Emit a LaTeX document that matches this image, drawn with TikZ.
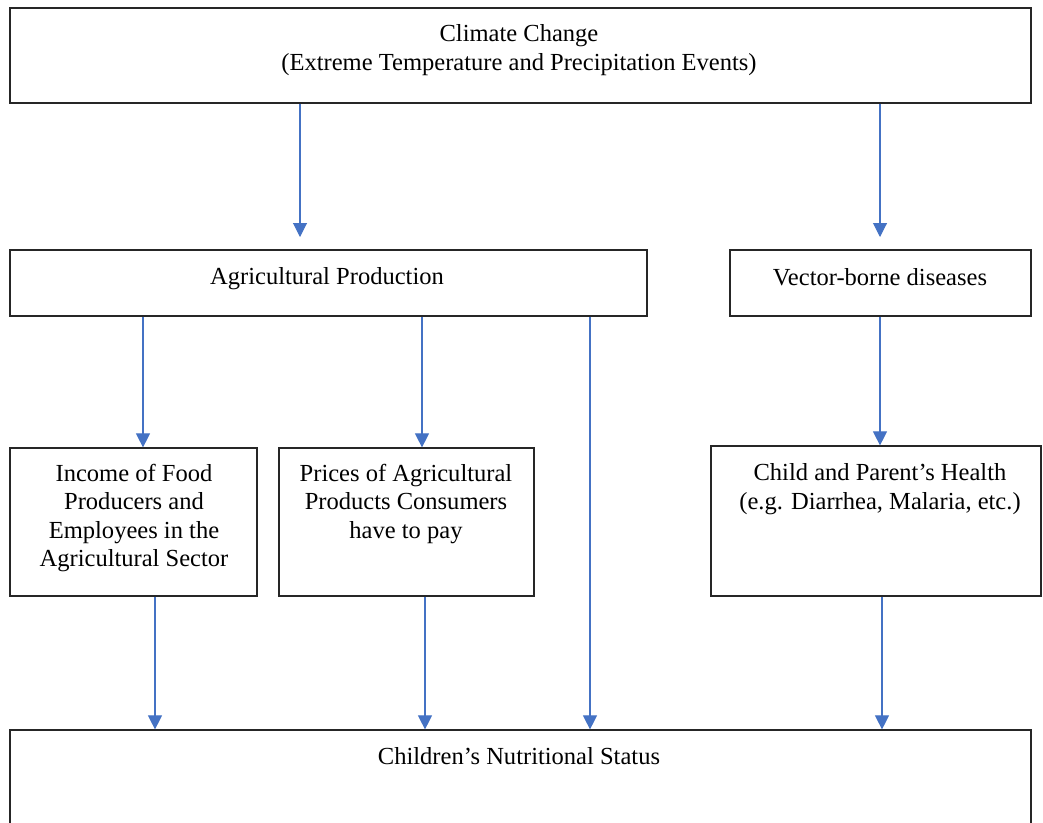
\documentclass[tikz,border=0pt]{standalone}
\usepackage{fontspec}
\setmainfont{Liberation Serif}
\usetikzlibrary{arrows.meta,fit}
\definecolor{arrowblue}{HTML}{4472C4}
\begin{document}
\begin{tikzpicture}[x=0.75pt,y=-0.75pt,
 box/.style={draw=black!85,line width=0.9pt,inner sep=0pt},
 lbl/.style={align=center,font=\fontsize{18.4}{21.3}\selectfont,inner sep=0pt},
 arr/.style={draw=arrowblue,line width=0.8pt,-{Triangle[length=10.5pt,width=10.5pt]}}]
\useasboundingbox (0,0) rectangle (1043,822);
\clip (0,0) rectangle (1043,822);
% boxes
\node[box,fit={(10,8) (1031,103)}] (clim) {};
\node[box,fit={(10,250) (647,316)}] (agri) {};
\node[box,fit={(730,250) (1031,316)}] (vect) {};
\node[box,fit={(10,448) (257,596)}] (inc) {};
\node[box,fit={(279,448) (534,596)}] (pric) {};
\node[box,fit={(711,446) (1041,596)}] (hlth) {};
\node[box,fit={(10,730) (1031,840)}] (nutr) {};
% texts
\node[lbl] (climT) at (519,50) {Climate Change\\(Extreme Temperature and Precipitation Events)};
\node[lbl] (agriT) at (327,279) {Agricultural Production};
\node[lbl] (vectT) at (880,277) {Vector-borne diseases};
\node[lbl] (incT) at (134,518) {Income of Food\\Producers and\\Employees in the\\Agricultural Sector};
\node[lbl] (pricT) at (406,504) {Prices of Agricultural\\Products Consumers\\have to pay};
\node[lbl] (hlthT) at (880,489) {Child and Parent’s Health\\(e.g. Diarrhea, Malaria, etc.)};
\node[lbl] (nutrT) at (519,756) {Children’s Nutritional Status};
% free ends
\coordinate (e1) at (300,237);
\coordinate (e2) at (880,237);
% connectors
\draw[arr] (clim.south -| e1) -- (e1);
\draw[arr] (clim.south -| e2) -- (e2);
\draw[arr] (agri.south -| 143,0) -- (inc.north -| 143,0);
\draw[arr] (agri.south -| 422,0) -- (pric.north -| 422,0);
\draw[arr] (agri.south -| 590,0) -- (nutr.north -| 590,0);
\draw[arr] (vect.south -| 880,0) -- (hlth.north -| 880,0);
\draw[arr] (inc.south -| 155,0) -- (nutr.north -| 155,0);
\draw[arr] (pric.south -| 425,0) -- (nutr.north -| 425,0);
\draw[arr] (hlth.south -| 882,0) -- (nutr.north -| 882,0);
\end{tikzpicture}
\end{document}
